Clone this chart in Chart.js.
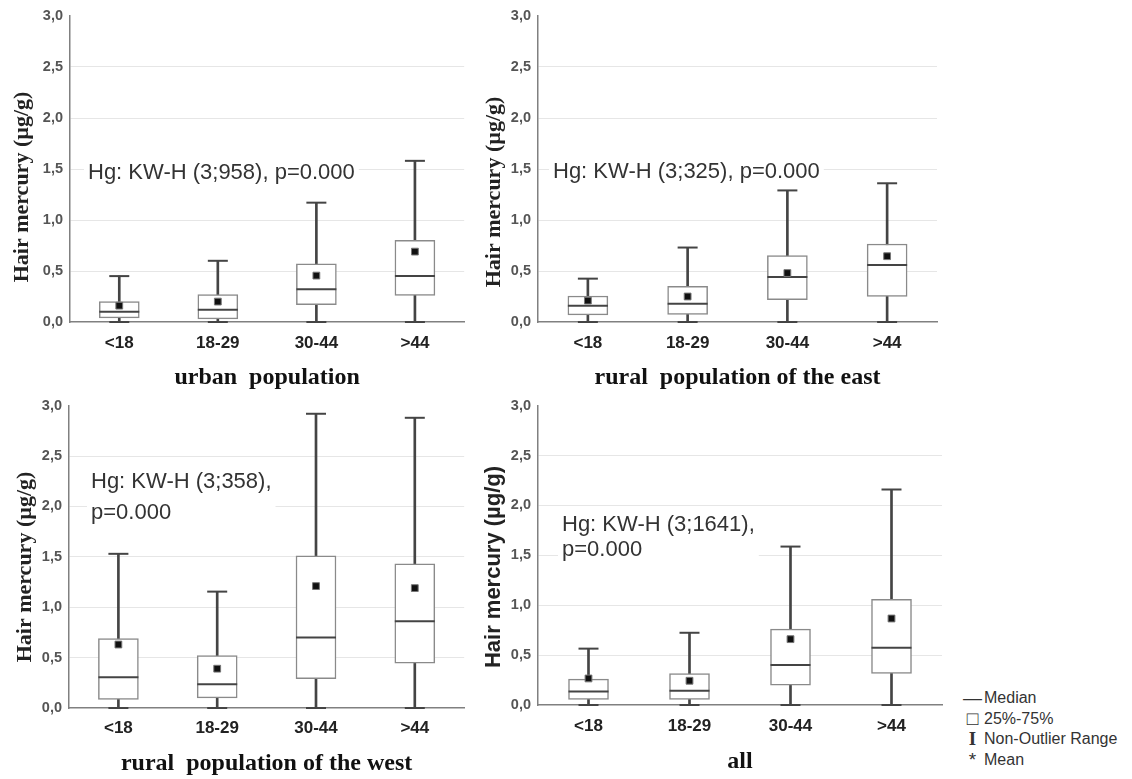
<!DOCTYPE html>
<html>
<head>
<meta charset="utf-8">
<script src="https://cdn.jsdelivr.net/npm/chart.js@4.4.1/dist/chart.umd.min.js"></script>
<style>
  body { margin: 0; background: #fff; width: 1132px; height: 779px; position: relative; overflow: hidden; }
  canvas { position: absolute; }
  #legend { position: absolute; left: 961px; top: 688px; font: 16px "Liberation Sans", Arial, sans-serif; color: #333; }
  #legend div { height: 20.5px; line-height: 20.5px; white-space: nowrap; }
  #legend .sym { display: inline-block; width: 23px; text-align: center; font-size: 19px; line-height: 20px; vertical-align: top; }
</style>
</head>
<body>
<canvas id="urbanChart" width="470" height="392" style="left:0;top:0"></canvas>
<canvas id="eastChart" width="480" height="392" style="left:470px;top:0"></canvas>
<canvas id="westChart" width="470" height="389" style="left:0;top:390px"></canvas>
<canvas id="allChart" width="480" height="389" style="left:470px;top:390px"></canvas>
<div id="legend">
  <div><span class="sym">&mdash;</span>Median</div>
  <div><span class="sym">&#9633;</span>25%-75%</div>
  <div><span class="sym" style="font-family:'Liberation Serif';font-weight:bold">I</span>Non-Outlier Range</div>
  <div><span class="sym">*</span>Mean</div>
</div>
<script>
// ///////////// data
const ageGroups = ['<18', '18-29', '30-44', '>44'];
const yTickLabels = ['0,0', '0,5', '1,0', '1,5', '2,0', '2,5', '3,0'];

const urbanMin = [0, 0, 0, 0];
const urbanQ1 = [0.04, 0.03, 0.17, 0.26];
const urbanMedian = [0.10, 0.12, 0.32, 0.45];
const urbanQ3 = [0.20, 0.27, 0.57, 0.80];
const urbanMax = [0.45, 0.60, 1.17, 1.58];
const urbanMean = [0.16, 0.20, 0.455, 0.69];

const eastMin = [0, 0, 0, 0];
const eastQ1 = [0.07, 0.075, 0.22, 0.25];
const eastMedian = [0.16, 0.18, 0.44, 0.56];
const eastQ3 = [0.255, 0.35, 0.65, 0.765];
const eastMax = [0.425, 0.73, 1.29, 1.36];
const eastMean = [0.21, 0.25, 0.48, 0.645];

const westMin = [0, 0, 0, 0];
const westQ1 = [0.085, 0.10, 0.29, 0.445];
const westMedian = [0.305, 0.235, 0.70, 0.86];
const westQ3 = [0.69, 0.52, 1.51, 1.43];
const westMax = [1.53, 1.155, 2.92, 2.88];
const westMean = [0.63, 0.39, 1.21, 1.19];

const allMin = [0, 0, 0, 0];
const allQ1 = [0.056, 0.056, 0.20, 0.316];
const allMedian = [0.136, 0.143, 0.40, 0.575];
const allQ3 = [0.26, 0.316, 0.76, 1.06];
const allMax = [0.565, 0.724, 1.588, 2.16];
const allMean = [0.266, 0.243, 0.66, 0.867];

// ///////////// median line, whisker caps, note text and y title
const boxExtras = {
    id: 'boxExtras',
    beforeDatasetsDraw(chart, args, opts) {
        const ctx = chart.ctx;
        ctx.save();
        ctx.font = opts.noteFont;
        let w = 0;
        opts.note.forEach((t) => { w = Math.max(w, ctx.measureText(t).width); });
        ctx.fillStyle = '#fff';
        ctx.fillRect(opts.noteX - 4, opts.noteY - opts.noteLine / 2 - 2, w + 8, opts.noteLine * opts.note.length + 4);
        ctx.fillStyle = '#333';
        ctx.textBaseline = 'middle';
        opts.note.forEach((t, i) => ctx.fillText(t, opts.noteX, opts.noteY + i * opts.noteLine));
        ctx.restore();
    },
    afterDatasetDraw(chart, args, opts) {
        if (args.index !== 1) return;
        const ctx = chart.ctx;
        const y = chart.scales.y;
        ctx.save();
        args.meta.data.forEach((bar, i) => {
            // median
            ctx.strokeStyle = '#444';
            ctx.lineWidth = 2;
            ctx.beginPath();
            ctx.moveTo(bar.x - bar.width / 2, y.getPixelForValue(opts.median[i]));
            ctx.lineTo(bar.x + bar.width / 2, y.getPixelForValue(opts.median[i]));
            ctx.stroke();
            // caps
            [opts.min[i], opts.max[i]].forEach((v) => {
                ctx.beginPath();
                ctx.moveTo(bar.x - 10, y.getPixelForValue(v));
                ctx.lineTo(bar.x + 10, y.getPixelForValue(v));
                ctx.stroke();
            });
        });
        ctx.restore();
    },
    afterDraw(chart, args, opts) {
        const ctx = chart.ctx;
        ctx.save();
        ctx.translate(opts.titleX, opts.titleY);
        ctx.rotate(-Math.PI / 2);
        ctx.font = opts.titleFont;
        ctx.fillStyle = '#222';
        ctx.textAlign = 'center';
        ctx.textBaseline = 'middle';
        ctx.fillText('Hair mercury (\u00b5g/g)', 0, 0);
        ctx.restore();
    }
};

// ///////////// build one box plot panel
const makeTheBoxGraph = function(id, stats, look) {
    const ctx = document.getElementById(id).getContext('2d');
    return new Chart(ctx, {
        data: {
            labels: ageGroups,
            datasets: [{
                type: 'bar',
                label: 'Non-Outlier Range',
                data: stats.min.map((v, i) => [v, stats.max[i]]),
                backgroundColor: '#444',
                barThickness: 2,
                grouped: false,
                order: 3
            }, {
                type: 'bar',
                label: '25%-75%',
                data: stats.q1.map((v, i) => [v, stats.q3[i]]),
                backgroundColor: '#fff',
                borderColor: '#8a8a8a',
                borderWidth: 1.5,
                borderSkipped: false,
                barThickness: 40,
                grouped: false,
                order: 2
            }, {
                type: 'line',
                label: 'Mean',
                data: stats.mean,
                showLine: false,
                pointStyle: 'rect',
                pointRadius: 4.8,
                pointBackgroundColor: '#111',
                pointBorderColor: '#777',
                pointBorderWidth: 1,
                order: 1
            }]
        },
        options: {
            responsive: false,
            animation: false,
            layout: { padding: look.padding },
            plugins: {
                legend: { display: false },
                tooltip: { enabled: false },
                boxExtras: Object.assign({ median: stats.median, min: stats.min, max: stats.max }, look.extras)
            },
            scales: {
                x: {
                    offset: true,
                    grid: { display: false },
                    border: { color: '#808080', width: 1.5 },
                    ticks: { color: '#222', padding: look.xTickPad, font: { family: 'Liberation Sans', size: 17, weight: 'bold' } },
                    title: {
                        display: true,
                        text: look.xTitle,
                        color: '#111',
                        padding: { top: 0, bottom: look.xTitlePad },
                        font: { family: 'Liberation Serif', size: 24, weight: 'bold' }
                    },
                    afterFit: (s) => { s.height = look.xHeight; }
                },
                y: {
                    min: 0,
                    max: 3,
                    border: { color: '#808080', width: 1.5 },
                    grid: {
                        drawTicks: false,
                        color: (c) => (c.tick && (c.tick.value === 0 || c.tick.value === 3)) ? 'rgba(0,0,0,0)' : '#e6e6e6'
                    },
                    ticks: {
                        stepSize: 0.5,
                        padding: 7,
                        color: '#555',
                        font: { family: 'Liberation Sans', size: 14.5, weight: 'bold' },
                        callback: (v, i) => yTickLabels[i]
                    },
                    afterFit: (s) => { s.width = look.yWidth; }
                }
            }
        },
        plugins: [boxExtras]
    });
};

const noteFont = '22px "Liberation Sans", Arial, sans-serif';
const serifTitle = 'bold 22px "Liberation Serif", serif';

makeTheBoxGraph('urbanChart',
    { min: urbanMin, q1: urbanQ1, median: urbanMedian, q3: urbanQ3, max: urbanMax, mean: urbanMean },
    { padding: { left: 0, top: 16, right: 5, bottom: 0 }, yWidth: 70, xHeight: 70, xTickPad: 3, xTitlePad: 0,
      xTitle: 'urban  population',
      extras: { note: ['Hg: KW-H (3;958), p=0.000'], noteX: 88, noteY: 173, noteLine: 26, noteFont: noteFont,
                titleX: 22, titleY: 187, titleFont: serifTitle } });

makeTheBoxGraph('eastChart',
    { min: eastMin, q1: eastQ1, median: eastMedian, q3: eastQ3, max: eastMax, mean: eastMean },
    { padding: { left: 0, top: 16, right: 13, bottom: 0 }, yWidth: 68, xHeight: 70, xTickPad: 3, xTitlePad: 0,
      xTitle: 'rural  population of the east',
      extras: { note: ['Hg: KW-H (3;325), p=0.000'], noteX: 83, noteY: 172, noteLine: 26, noteFont: noteFont,
                titleX: 24, titleY: 192, titleFont: serifTitle } });

makeTheBoxGraph('westChart',
    { min: westMin, q1: westQ1, median: westMedian, q3: westQ3, max: westMax, mean: westMean },
    { padding: { left: 0, top: 13, right: 5, bottom: 0 }, yWidth: 69, xHeight: 71, xTickPad: 2, xTitlePad: 1,
      xTitle: 'rural  population of the west',
      extras: { note: ['Hg: KW-H (3;358),', 'p=0.000'], noteX: 91, noteY: 92, noteLine: 31, noteFont: noteFont,
                titleX: 25, titleY: 177, titleFont: serifTitle } });

makeTheBoxGraph('allChart',
    { min: allMin, q1: allQ1, median: allMedian, q3: allQ3, max: allMax, mean: allMean },
    { padding: { left: 0, top: 14, right: 8, bottom: 0 }, yWidth: 68, xHeight: 74, xTickPad: 3, xTitlePad: 3,
      xTitle: 'all',
      extras: { note: ['Hg: KW-H (3;1641),', 'p=0.000'], noteX: 92, noteY: 135, noteLine: 25, noteFont: noteFont,
                titleX: 24, titleY: 177, titleFont: 'bold 22px "Liberation Sans", Arial, sans-serif' } });
</script>
</body>
</html>
